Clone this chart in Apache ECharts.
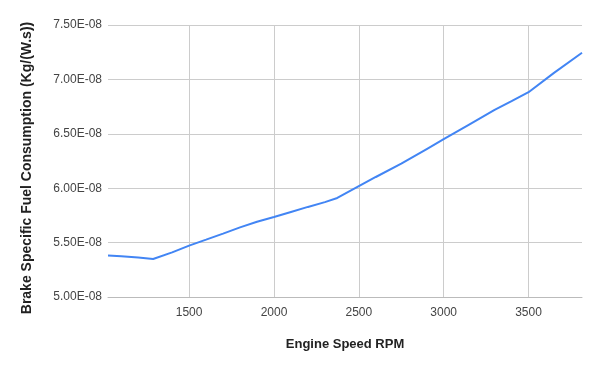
<!DOCTYPE html>
<html>
<head>
<meta charset="utf-8">
<script src="https://cdn.jsdelivr.net/npm/echarts@6/dist/echarts.min.js"></script>
<style>
html,body{margin:0;padding:0;background:#fff;}
#chart{width:600px;height:372px;}
</style>
</head>
<body>
<div id="chart"></div>
<script>
const rpm = [1022, 1100, 1200, 1288, 1400, 1500, 1600, 1700, 1800, 1900, 2000, 2100, 2200, 2300, 2373, 2500, 2600, 2750, 2900, 3000, 3150, 3300, 3400, 3500, 3650, 3815];
const bsfc = [5.382e-8, 5.375e-8, 5.362e-8, 5.349e-8, 5.410e-8, 5.472e-8, 5.527e-8, 5.583e-8, 5.640e-8, 5.692e-8, 5.735e-8, 5.782e-8, 5.828e-8, 5.872e-8, 5.910e-8, 6.018e-8, 6.103e-8, 6.225e-8, 6.360e-8, 6.450e-8, 6.585e-8, 6.720e-8, 6.800e-8, 6.882e-8, 7.060e-8, 7.245e-8];
const xTitle = 'Engine Speed RPM';
const yTitle = 'Brake Specific Fuel Consumption (Kg/(W.s))';

const chart = echarts.init(document.getElementById('chart'), null, {renderer: 'canvas'});
const font = 'Liberation Sans, Arial, sans-serif';
chart.setOption({
  animation: false,
  grid: {left: 108, right: 18, top: 25, bottom: 75},
  xAxis: {
    type: 'value',
    min: rpm[0],
    max: rpm[rpm.length - 1],
    name: xTitle,
    nameLocation: 'middle',
    nameGap: 41,
    nameTextStyle: {fontFamily: font, fontWeight: 'bold', fontSize: 13, color: '#222'},
    axisLine: {show: true, lineStyle: {color: '#bbb', width: 1}},
    axisTick: {show: false},
    axisLabel: {fontFamily: font, fontSize: 12, color: '#444', margin: 10, showMinLabel: false, showMaxLabel: false,
      formatter: function (v) { return String(v); }},
    splitLine: {show: true, showMinLine: false, showMaxLine: false, lineStyle: {color: '#ccc', width: 1}}
  },
  yAxis: {
    type: 'value',
    min: 5e-8,
    max: 7.5e-8,
    interval: 0.5e-8,
    name: yTitle,
    nameLocation: 'middle',
    nameGap: 74,
    nameTextStyle: {fontFamily: font, fontWeight: 'bold', fontSize: 14, color: '#222', padding: [0, 14, 0, 0]},
    axisLine: {show: false},
    axisTick: {show: false},
    axisLabel: {
      fontFamily: font, fontSize: 12, color: '#444', margin: 6,
      formatter: function (v) {
        return v.toExponential(2).toUpperCase().replace(/E([+-])(\d)$/, 'E$10$2');
      }
    },
    splitLine: {show: true, lineStyle: {color: '#ccc', width: 1}}
  },
  series: [{
    type: 'line',
    data: rpm.map((r, i) => [r, bsfc[i]]),
    showSymbol: false,
    lineStyle: {color: '#4285F4', width: 2},
    itemStyle: {color: '#4285F4'}
  }]
});
</script>
</body>
</html>
